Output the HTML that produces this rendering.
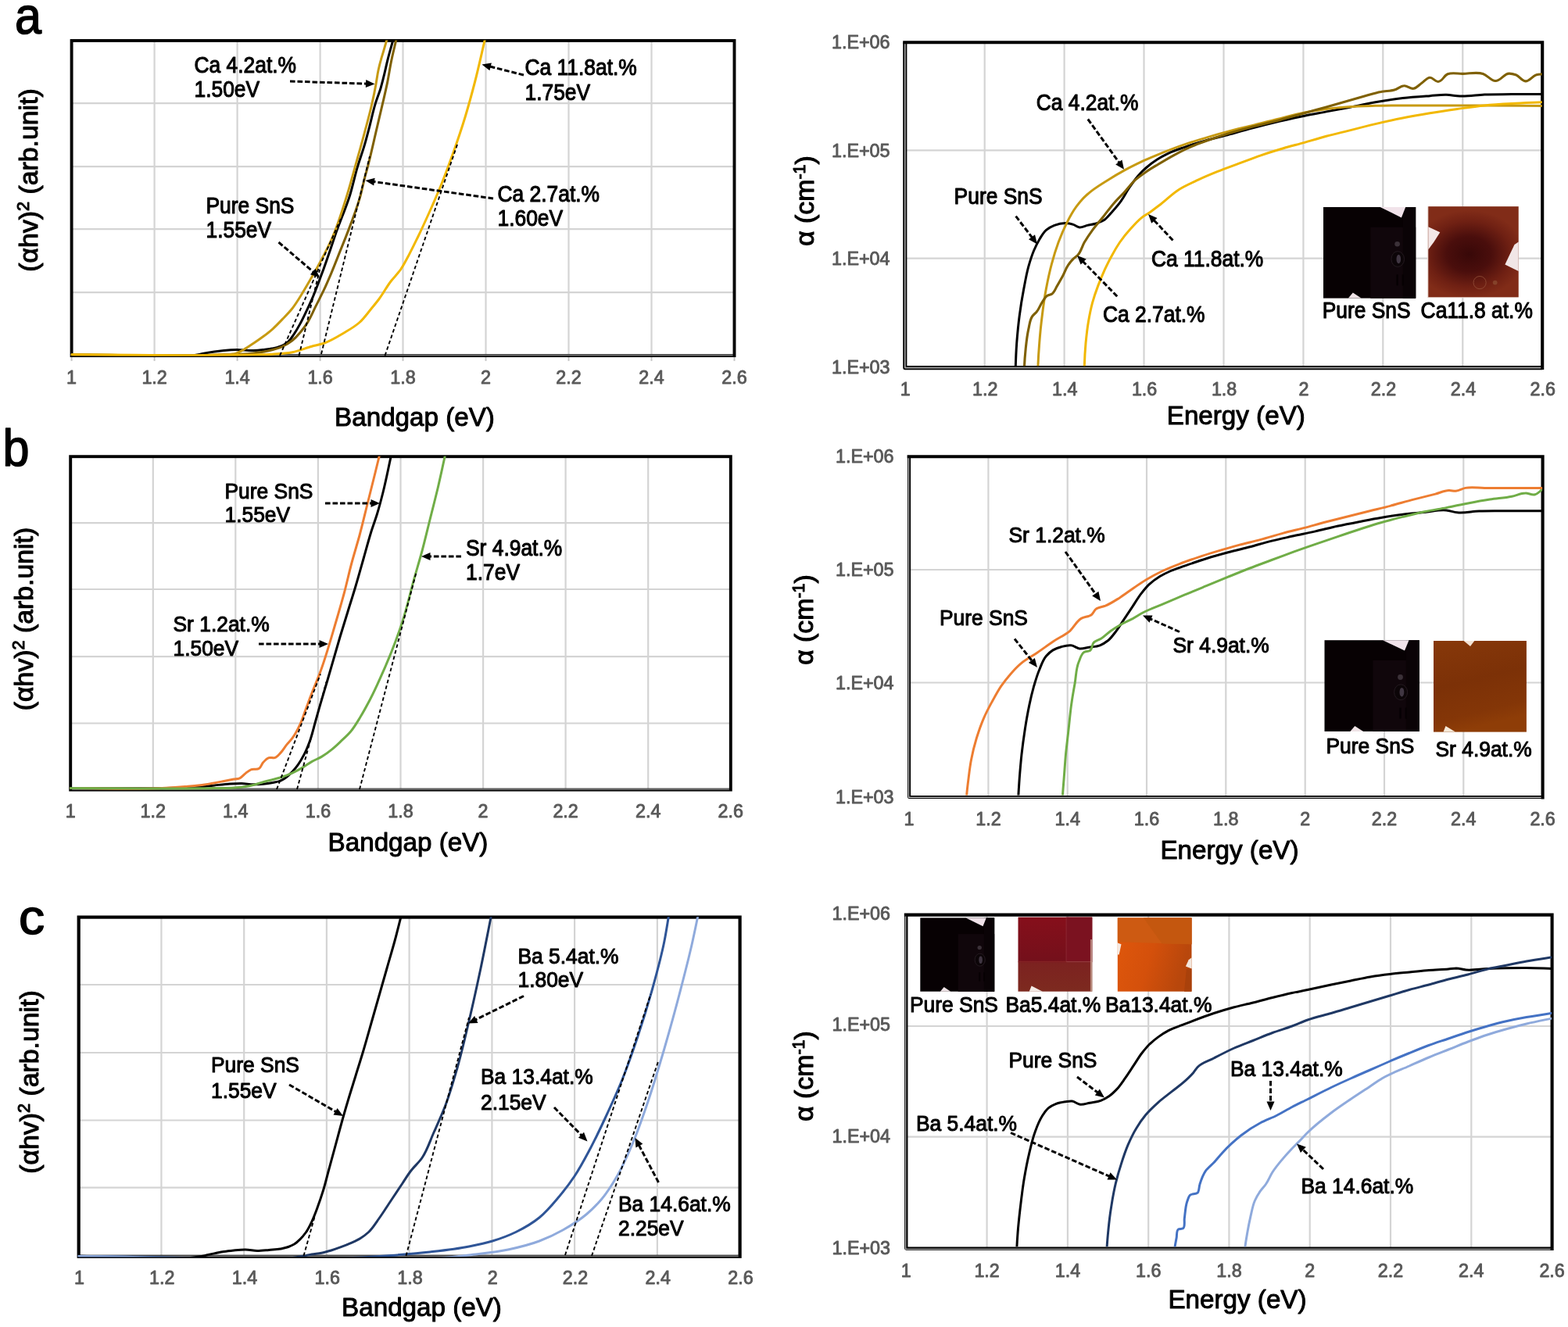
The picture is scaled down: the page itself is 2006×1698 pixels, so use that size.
<!DOCTYPE html>
<html lang="en">
<head>
<meta charset="utf-8">
<title>Tauc plots and absorption coefficient of Ca, Sr, Ba alloyed SnS</title>
<style>
html,body{margin:0;padding:0;background:#fff;}
body{width:2006px;height:1698px;overflow:hidden;}
svg{display:block;font-family:'Liberation Sans', sans-serif;}
svg text{white-space:pre;}
</style>
</head>
<body>
<svg width="2006" height="1698" viewBox="0 0 2006 1698">
<rect width="2006" height="1698" fill="#fff"/>
<g id="panel-al">
<clipPath id="clip-al"><rect x="90.6" y="51.6" width="848.9" height="403.9"/></clipPath>
<rect x="91.6" y="52" width="847.9" height="403.1" fill="#fff"/>
<line x1="197.6" y1="52" x2="197.6" y2="455.1" stroke="#d4d4d4" stroke-width="2.2"/>
<line x1="303.6" y1="52" x2="303.6" y2="455.1" stroke="#d4d4d4" stroke-width="2.2"/>
<line x1="409.6" y1="52" x2="409.6" y2="455.1" stroke="#d4d4d4" stroke-width="2.2"/>
<line x1="515.5" y1="52" x2="515.5" y2="455.1" stroke="#d4d4d4" stroke-width="2.2"/>
<line x1="621.5" y1="52" x2="621.5" y2="455.1" stroke="#d4d4d4" stroke-width="2.2"/>
<line x1="727.5" y1="52" x2="727.5" y2="455.1" stroke="#d4d4d4" stroke-width="2.2"/>
<line x1="833.5" y1="52" x2="833.5" y2="455.1" stroke="#d4d4d4" stroke-width="2.2"/>
<line x1="91.6" y1="132.1" x2="939.5" y2="132.1" stroke="#d4d4d4" stroke-width="2.2"/>
<line x1="91.6" y1="213.1" x2="939.5" y2="213.1" stroke="#d4d4d4" stroke-width="2.2"/>
<line x1="91.6" y1="293.2" x2="939.5" y2="293.2" stroke="#d4d4d4" stroke-width="2.2"/>
<line x1="91.6" y1="374.2" x2="939.5" y2="374.2" stroke="#d4d4d4" stroke-width="2.2"/>
<line x1="91.6" y1="456.1" x2="91.6" y2="461.9" stroke="#c6c6c6" stroke-width="2"/>
<line x1="197.6" y1="456.1" x2="197.6" y2="461.9" stroke="#c6c6c6" stroke-width="2"/>
<line x1="303.6" y1="456.1" x2="303.6" y2="461.9" stroke="#c6c6c6" stroke-width="2"/>
<line x1="409.6" y1="456.1" x2="409.6" y2="461.9" stroke="#c6c6c6" stroke-width="2"/>
<line x1="515.5" y1="456.1" x2="515.5" y2="461.9" stroke="#c6c6c6" stroke-width="2"/>
<line x1="621.5" y1="456.1" x2="621.5" y2="461.9" stroke="#c6c6c6" stroke-width="2"/>
<line x1="727.5" y1="456.1" x2="727.5" y2="461.9" stroke="#c6c6c6" stroke-width="2"/>
<line x1="833.5" y1="456.1" x2="833.5" y2="461.9" stroke="#c6c6c6" stroke-width="2"/>
<line x1="939.5" y1="456.1" x2="939.5" y2="461.9" stroke="#c6c6c6" stroke-width="2"/>
<rect x="91.6" y="52" width="847.9" height="403.1" fill="none" stroke="#000" stroke-width="3.9"/>
<line x1="93.5" y1="454.6" x2="937.6" y2="454.6" stroke="#808080" stroke-width="1.5"/>
<g clip-path="url(#clip-al)" fill="none" stroke-linejoin="round" stroke-linecap="round">
<path d="M91.7 453.8 C146.1 453.7 201.7 464.7 255 453.4 C256.4 453.1 257.8 452.8 259.2 452.5 C264.2 451.5 269.2 450.7 274.2 450 C278.3 449.4 282.5 448.9 286.6 448.5 C292 448 297.4 447.6 302.8 447.5 C309.9 447.4 317 448.7 324 448.5 C328.2 448.4 332.3 448 336.5 447.5 C340.7 447 344.9 446.6 349 445.8 C353.2 444.8 357.5 444 361.4 442 C364.1 440.7 366.7 439 368.9 437 C372 434.3 374 430.5 376.4 427.1 C379.1 423 381.5 418.8 383.8 414.6 C386.5 409.7 388.9 404.7 391.3 399.6 C393.9 394.3 396.4 388.9 398.8 383.4 C401.5 377.3 403.9 371 406.3 364.7 C408.8 358.1 411.3 351.5 413.8 344.8 C416.3 337.8 418.8 330.7 421.2 323.6 C423.8 316.2 426.2 308.6 428.7 301.2 C434.6 284 442.2 267.3 447.6 250 C451.4 237.8 453.8 225.3 457.5 213.1 C460 204.8 463 196.7 465.5 188.4 C468 180.2 470.1 171.9 472.3 163.6 C475.1 153.2 477.1 142.5 480.4 132.1 C482.2 126.1 484.7 120.2 486.6 114.2 C488.4 108.1 489.9 101.8 491.5 95.6 C493 89.5 494.3 83.3 495.8 77.1 C498 68.4 500.5 59.8 502.9 51.1" stroke="#000000" stroke-width="3.0"/>
<path d="M91.7 453.8 C161.1 453.7 230.7 457.8 300 453.6 C308 453.1 316.1 453 324 452 C332.4 451 340.8 449.8 349 447.5 C353.2 446.3 357.4 445.1 361.4 443.3 C365.8 441.2 370.1 438.8 373.9 435.8 C377.6 432.9 380.8 429.4 383.8 425.8 C387.5 421.5 390.8 416.9 393.8 412.1 C397.8 405.8 400.5 398.8 403.8 392.2 C407.1 385.5 410.6 378.9 413.8 372.2 C417.3 364.8 420.5 357.3 423.7 349.8 C427.2 341.5 430.4 333.2 433.7 324.9 C437 316.6 440.5 308.3 443.7 299.9 C450 283.5 456.6 267 461.2 250 C463.1 243.1 464.4 236.1 466.2 229.2 C467.5 223.8 469.1 218.5 470.5 213.1 C474.8 196.7 478.3 180.1 482.2 163.6 C484.7 153.1 487.2 142.6 489.6 132.1 C491.5 123.9 493.5 115.7 495.2 107.4 C497.3 97.3 498.7 87.1 500.8 77.1 C502.6 68.4 504.8 59.8 506.8 51.1" stroke="#7f6000" stroke-width="3.0"/>
<path d="M91.7 453.8 C154.5 453.7 217.4 457.6 280 453.6 C287.6 453.1 295.7 454.6 302.8 452 C305.9 450.8 308.7 449.1 311.6 447.5 C315.9 445.1 319.9 442.3 324 439.5 C328.2 436.7 332.4 433.8 336.5 430.8 C340.8 427.6 345 424.4 349 420.8 C353.3 416.9 357.4 412.6 361.4 408.4 C365.7 403.9 370 399.5 373.9 394.7 C378.5 388.8 382.4 382.3 386.3 376 C390.7 369 394.7 361.9 398.8 354.8 C403.1 347.4 407.3 339.9 411.3 332.3 C415.6 324.1 419.9 315.9 423.7 307.4 C432.1 288.9 437.9 269.3 443.9 250 C447.7 237.8 451 225.4 454.4 213.1 C459 196.6 463.7 180.2 468 163.6 C470.8 153.2 473.7 142.7 476 132.1 C477.9 123.9 479.5 115.7 481 107.4 C482.1 101.4 482.8 95.4 484.1 89.5 C485 85.3 486 81.2 487.2 77.1 C488.3 72.9 489.7 68.9 490.9 64.7 C492.2 60.2 493.5 55.7 494.8 51.1" stroke="#c79a12" stroke-width="3.0"/>
<path d="M91.7 453.8 C171.1 453.8 250.6 456 330 453.8 C336.3 453.6 342.6 453.6 349 453.2 C357.3 452.7 365.7 452.3 373.9 450.7 C382.4 449.1 390.4 445.6 398.8 443.3 C404.2 441.8 409.7 440.9 415 439 C423.9 435.9 431.9 430.8 440 426 C446.9 421.9 454 417.9 460 412.5 C465.7 407.4 470.1 400.9 475 395 C478.4 390.9 481.8 386.8 485 382.5 C490.4 375.3 494.5 367.2 500 360 C503.9 354.8 508.8 350.3 512.5 345 C516.3 339.5 519.3 333.4 522.5 327.5 C526.9 319.3 530.9 310.9 535 302.5 C540.2 291.8 545.1 280.9 550 270 C555.2 258.4 560.3 246.8 565 235 C570.3 221.8 575.2 208.4 580 195 C585.3 180.1 590.4 165.1 595 150 C599.5 135.1 603.6 120.1 607.5 105 C612.2 86.8 616.2 68.3 620.5 50" stroke="#f2b800" stroke-width="3.0"/>
</g>
<line x1="358" y1="455" x2="436" y2="280" stroke="#000" stroke-width="1.9" stroke-dasharray="4.6 3.2"/>
<line x1="382.5" y1="455" x2="409" y2="345" stroke="#000" stroke-width="1.9" stroke-dasharray="4.6 3.2"/>
<line x1="411" y1="453" x2="473" y2="200" stroke="#000" stroke-width="1.9" stroke-dasharray="4.6 3.2"/>
<line x1="492.5" y1="455" x2="585" y2="185" stroke="#000" stroke-width="1.9" stroke-dasharray="4.6 3.2"/>
<line x1="371" y1="104" x2="470" y2="107.2" stroke="#000" stroke-width="3.0" stroke-dasharray="6.6 2.9"/>
<polygon points="479.5,107.5 467.8,112.1 468.2,102.1" fill="#000"/>
<line x1="670" y1="96" x2="625.7" y2="84.8" stroke="#000" stroke-width="3.0" stroke-dasharray="6.6 2.9"/>
<polygon points="616.5,82.5 628.9,80.5 626.4,90.2" fill="#000"/>
<line x1="631" y1="254" x2="476.9" y2="232.3" stroke="#000" stroke-width="3.0" stroke-dasharray="6.6 2.9"/>
<polygon points="467.5,231 479.6,227.7 478.2,237.6" fill="#000"/>
<line x1="356.5" y1="310" x2="401.8" y2="348.8" stroke="#000" stroke-width="3.0" stroke-dasharray="6.6 2.9"/>
<polygon points="409,355 397,351.3 403.5,343.7" fill="#000"/>
<text x="91.6" y="491.3" font-size="23.3" fill="#595959" text-anchor="middle" stroke="#595959" stroke-width="0.9" stroke-linejoin="round">1</text>
<text x="197.6" y="491.3" font-size="23.3" fill="#595959" text-anchor="middle" stroke="#595959" stroke-width="0.9" stroke-linejoin="round">1.2</text>
<text x="303.6" y="491.3" font-size="23.3" fill="#595959" text-anchor="middle" stroke="#595959" stroke-width="0.9" stroke-linejoin="round">1.4</text>
<text x="409.6" y="491.3" font-size="23.3" fill="#595959" text-anchor="middle" stroke="#595959" stroke-width="0.9" stroke-linejoin="round">1.6</text>
<text x="515.5" y="491.3" font-size="23.3" fill="#595959" text-anchor="middle" stroke="#595959" stroke-width="0.9" stroke-linejoin="round">1.8</text>
<text x="621.5" y="491.3" font-size="23.3" fill="#595959" text-anchor="middle" stroke="#595959" stroke-width="0.9" stroke-linejoin="round">2</text>
<text x="727.5" y="491.3" font-size="23.3" fill="#595959" text-anchor="middle" stroke="#595959" stroke-width="0.9" stroke-linejoin="round">2.2</text>
<text x="833.5" y="491.3" font-size="23.3" fill="#595959" text-anchor="middle" stroke="#595959" stroke-width="0.9" stroke-linejoin="round">2.4</text>
<text x="939.5" y="491.3" font-size="23.3" fill="#595959" text-anchor="middle" stroke="#595959" stroke-width="0.9" stroke-linejoin="round">2.6</text>
<text transform="translate(248.5 92.5) scale(1 1.095)" font-size="26.4" fill="#000" text-anchor="start" stroke="#000" stroke-width="1.0" stroke-linejoin="round">Ca 4.2at.%</text>
<text transform="translate(248.5 123.5) scale(1 1.095)" font-size="26.4" fill="#000" text-anchor="start" stroke="#000" stroke-width="1.0" stroke-linejoin="round">1.50eV</text>
<text transform="translate(671.5 96) scale(1 1.095)" font-size="26.4" fill="#000" text-anchor="start" stroke="#000" stroke-width="1.0" stroke-linejoin="round">Ca 11.8at.%</text>
<text transform="translate(671.5 127.5) scale(1 1.095)" font-size="26.4" fill="#000" text-anchor="start" stroke="#000" stroke-width="1.0" stroke-linejoin="round">1.75eV</text>
<text transform="translate(636.5 257.5) scale(1 1.095)" font-size="26.4" fill="#000" text-anchor="start" stroke="#000" stroke-width="1.0" stroke-linejoin="round">Ca 2.7at.%</text>
<text transform="translate(636.5 288.5) scale(1 1.095)" font-size="26.4" fill="#000" text-anchor="start" stroke="#000" stroke-width="1.0" stroke-linejoin="round">1.60eV</text>
<text transform="translate(263.5 272.5) scale(1 1.095)" font-size="26.4" fill="#000" text-anchor="start" stroke="#000" stroke-width="1.0" stroke-linejoin="round">Pure SnS</text>
<text transform="translate(263.5 304) scale(1 1.095)" font-size="26.4" fill="#000" text-anchor="start" stroke="#000" stroke-width="1.0" stroke-linejoin="round">1.55eV</text>
<text x="530.5" y="544.7" font-size="33.2" fill="#000" text-anchor="middle" stroke="#000" stroke-width="1.0" stroke-linejoin="round">Bandgap (eV)</text>
<text transform="translate(48 230.5) rotate(-90)" font-size="33.8" fill="#000" stroke="#000" stroke-width="1.1" stroke-linejoin="round" text-anchor="middle">(αhv)<tspan font-size="21.5" dy="-11">2</tspan><tspan dy="11"> (arb.unit)</tspan></text>
</g>
<g id="panel-ar">
<clipPath id="clip-ar"><rect x="1157.8" y="54.3" width="815" height="413.9"/></clipPath>
<rect x="1157.8" y="54.3" width="815.5" height="416.2" fill="#fff"/>
<line x1="1259.7" y1="54.3" x2="1259.7" y2="470.6" stroke="#d4d4d4" stroke-width="2.2"/>
<line x1="1361.6" y1="54.3" x2="1361.6" y2="470.6" stroke="#d4d4d4" stroke-width="2.2"/>
<line x1="1463.5" y1="54.3" x2="1463.5" y2="470.6" stroke="#d4d4d4" stroke-width="2.2"/>
<line x1="1565.5" y1="54.3" x2="1565.5" y2="470.6" stroke="#d4d4d4" stroke-width="2.2"/>
<line x1="1667.4" y1="54.3" x2="1667.4" y2="470.6" stroke="#d4d4d4" stroke-width="2.2"/>
<line x1="1769.3" y1="54.3" x2="1769.3" y2="470.6" stroke="#d4d4d4" stroke-width="2.2"/>
<line x1="1871.3" y1="54.3" x2="1871.3" y2="470.6" stroke="#d4d4d4" stroke-width="2.2"/>
<line x1="1157.8" y1="192.4" x2="1973.2" y2="192.4" stroke="#d4d4d4" stroke-width="2.2"/>
<line x1="1157.8" y1="330.6" x2="1973.2" y2="330.6" stroke="#d4d4d4" stroke-width="2.2"/>
<g id="ph-a1">
<defs><linearGradient id="ph-a1-g" x1="0" y1="0" x2="1" y2="0"><stop offset="0" stop-color="#050001"/><stop offset="0.45" stop-color="#080103"/><stop offset="0.55" stop-color="#160a10"/><stop offset="1" stop-color="#1a0a11"/></linearGradient></defs>
<rect x="1693" y="265" width="118.2" height="116.6" fill="#070103"/>
<rect x="1753.3" y="290.7" width="57.9" height="90.9" fill="#10060b"/>
<rect x="1794.7" y="265" width="16.5" height="116.6" fill="#0a0306"/>
<polygon points="1765.7,265 1798.2,265 1792.9,278.4" fill="#f1e3ea"/>
<polygon points="1724.9,381.6 1730.8,374.6 1741.5,381.6" fill="#efe3e6"/>
<circle cx="1787.6" cy="312.2" r="3.3" fill="#3b3138"/>
<ellipse cx="1788.2" cy="331.5" rx="8.3" ry="9.9" fill="#0c0508" stroke="#241a20" stroke-width="1"/>
<ellipse cx="1789.3" cy="331.5" rx="2.8" ry="5.8" fill="#403642"/>
<rect x="1786.4" y="351.3" width="2.4" height="14" fill="#060103"/>
<rect x="1793.5" y="351.3" width="2.4" height="14" fill="#060103"/>
</g>
<g id="ph-a2">
<defs><radialGradient id="ph-a2-g" cx="0.45" cy="0.52" r="0.62" gradientTransform="translate(0 0.12) scale(1 0.78)"><stop offset="0" stop-color="#380808"/><stop offset="0.4" stop-color="#4a0e0c"/><stop offset="0.75" stop-color="#6f2013"/><stop offset="1" stop-color="#812c18"/></radialGradient></defs>
<rect x="1826.1" y="264.2" width="116.6" height="117" fill="#e9d9d2"/>
<rect x="1827.3" y="264.2" width="115.4" height="116" fill="url(#ph-a2-g)"/>
<polygon points="1827.3,290.3 1842.3,297.3 1834.2,310 1827.3,319.3" fill="#f3e7e6"/>
<polygon points="1942.7,309.4 1937.5,312.9 1925.4,338.4 1942.7,347.1" fill="#f1e6e6"/>
<circle cx="1893.1" cy="361.6" r="8.1" fill="none" stroke="#93503a" stroke-width="1" opacity="0.8"/>
<circle cx="1912.7" cy="361.6" r="2.9" fill="#8a4a30" opacity="0.8"/>
</g>
<path d="M1155.2 54.3 L1973.2 54.3 L1973.2 470.6 L1973.2 473.1" fill="none" stroke="#000" stroke-width="4.1" stroke-linejoin="miter"/>
<path d="M1157.8 54.3 L1157.8 470.6 L1973.2 470.6" fill="none" stroke="#000" stroke-width="5.1" stroke-linejoin="round"/>
<path d="M1157.8 56.3 L1157.8 470.6 L1971.2 470.6" fill="none" stroke="#a3a3a3" stroke-width="1.6" stroke-linejoin="round"/>
<g clip-path="url(#clip-ar)" fill="none" stroke-linejoin="round" stroke-linecap="round">
<path d="M1299 484.5 C1299.1 479.3 1299.2 474 1299.3 468.8 C1299.6 458.9 1300 449 1300.7 439.1 C1301.6 427.5 1302.7 415.8 1304.2 404.2 C1305.7 392.6 1307.6 380.9 1309.8 369.4 C1311.6 360 1313.2 350.6 1315.7 341.4 C1317.7 334.4 1319.8 327.3 1322.7 320.5 C1324.8 315.7 1327 311 1329.7 306.5 C1332.3 302.3 1334.6 297.6 1338.4 294.3 C1341.5 291.7 1345.1 289.9 1348.9 288.4 C1353.3 286.7 1358.1 285.6 1362.8 285.6 C1366.4 285.6 1370 286.2 1373.3 287.4 C1375.8 288.2 1377.7 290.4 1380.3 290.8 C1383.8 291.5 1387.3 289.2 1390.8 288.4 C1394.2 287.6 1397.8 287.3 1401.2 286.3 C1404.8 285.2 1408.5 284.1 1411.7 282.1 C1415.9 279.5 1418.8 275.3 1422.2 271.7 C1425.8 267.7 1429.4 263.7 1432.6 259.4 C1437.5 253 1440.9 245.5 1445.6 238.9 C1448.9 234.1 1452.2 229.3 1456 224.9 C1459.3 221.2 1462.8 217.7 1466.5 214.5 C1470.9 210.6 1475.6 207.1 1480.5 204 C1484.9 201.1 1489.6 198.6 1494.4 196.3 C1501.2 193.1 1508.3 190.8 1515.4 188.3 C1524.5 185.1 1533.9 182.2 1543.3 179.6 C1551.4 177.3 1559.6 175.4 1567.7 173.3 C1579.3 170.2 1590.9 166.9 1602.6 163.9 C1614.2 160.8 1625.8 157.9 1637.5 155.1 C1647.9 152.7 1658.4 150.3 1668.9 148.2 C1678.2 146.3 1687.5 144.7 1696.8 142.9 C1706.1 141.2 1715.4 139.5 1724.7 137.7 C1736.3 135.4 1747.9 132.8 1759.6 130.7 C1771.2 128.7 1782.8 126.8 1794.5 125.5 C1806.1 124.2 1817.7 123.5 1829.4 122.7 C1836.4 122.2 1843.3 121.1 1850.3 121.3 C1856.2 121.4 1861.9 122.8 1867.8 123 C1878.2 123.5 1888.7 121.4 1899.2 120.9 C1910.8 120.5 1922.4 120.7 1934.1 120.6 C1947.4 120.5 1960.8 120.6 1974.2 120.6" stroke="#000000" stroke-width="3.0"/>
<path d="M1327.6 484.5 C1327.7 479.3 1327.8 474 1327.9 468.8 C1328.3 458.9 1328.9 449 1329.7 439.1 C1330.6 427.5 1331.7 415.8 1333.2 404.2 C1334.6 392.6 1336.2 380.9 1338.4 369.4 C1340.4 358.8 1342.6 348.3 1345.4 337.9 C1347.9 328.5 1350.7 319.2 1354.1 310 C1357.2 301.7 1360.6 293.5 1364.6 285.6 C1368.2 278.4 1372 271.2 1376.8 264.7 C1380.9 259 1385.5 253.6 1390.8 249 C1392.7 247.3 1394.7 245.7 1396.7 244.1 C1403.3 239 1410.5 234.6 1417.7 230.2 C1424.5 225.9 1431.5 221.8 1438.6 217.9 C1446.6 213.6 1454.8 209.6 1463 205.7 C1471.1 202 1479.2 198.6 1487.4 195.3 C1496.7 191.6 1506 188 1515.4 184.8 C1524.6 181.6 1533.9 178.9 1543.3 176.1 C1551.4 173.7 1559.5 171.3 1567.7 169.1 C1579.3 166 1590.9 163.3 1602.6 160.4 C1614.2 157.5 1625.8 154.5 1637.5 151.7 C1647.9 149.1 1658.3 146.1 1668.9 144 C1678.1 142.1 1687.4 140.7 1696.8 139.4 C1706.1 138.2 1715.4 137.3 1724.7 136.7 C1736.3 135.8 1748 135.6 1759.6 135.3 C1782.8 134.6 1806.1 135 1829.4 134.9 C1852.6 134.8 1875.9 134.8 1899.2 134.9 C1924.2 135 1949.2 135.4 1974.2 135.6" stroke="#c79a12" stroke-width="3.0"/>
<path d="M1310.2 484.5 C1310.3 479.3 1310.3 474 1310.5 468.8 C1310.8 461.2 1311.4 453.7 1312.2 446.1 C1313.1 437.9 1313.9 429.7 1315.7 421.7 C1317.1 415.8 1317.3 409.1 1321 404.2 C1322.5 402.3 1324.6 400.9 1326.2 399 C1329.2 395.4 1330.5 390.7 1333.2 386.8 C1335.3 383.7 1336.9 379.9 1340.2 378.1 C1341.8 377.2 1343.8 377.2 1345.4 376.3 C1349 374.2 1350.2 369.4 1352.4 365.9 C1354.8 361.9 1357.1 357.8 1359.4 353.6 C1361.8 349.1 1363.4 344 1366.3 339.7 C1368.4 336.6 1370.6 333.5 1373.3 331 C1374.9 329.4 1377 328.4 1378.5 326.8 C1383 322.3 1384.1 315.5 1387.3 310 C1390.5 304.6 1394 299.4 1397.7 294.3 C1402.1 288.3 1407 282.7 1411.7 276.9 C1416.3 271.1 1420.7 265 1425.6 259.4 C1429.8 254.7 1434.3 250.5 1438.6 245.9 C1443.3 240.7 1447.3 234.9 1452.5 230.2 C1456.9 226.3 1461.7 223 1466.5 219.7 C1471 216.6 1475.8 213.8 1480.5 211 C1487.4 206.8 1494.3 202.6 1501.4 198.8 C1508.3 195 1515.2 191.4 1522.3 188.3 C1529.2 185.3 1536.2 182.8 1543.3 180.3 C1551.4 177.3 1559.5 174.5 1567.7 171.9 C1579.2 168.2 1590.9 165.2 1602.6 162.1 C1614.2 159.1 1625.9 156.5 1637.5 153.4 C1648 150.6 1658.4 147.6 1668.9 144.7 C1678.2 142.1 1687.5 139.6 1696.8 137 C1706.1 134.4 1715.4 131.6 1724.7 129 C1731.7 127 1738.6 125 1745.6 123 C1752.6 121.1 1759.5 118.8 1766.6 117.5 C1772.3 116.3 1778.4 116.7 1784 115 C1788.3 113.7 1791.8 110 1796.2 109.8 C1800.5 109.5 1804.3 113.9 1808.4 113.3 C1812.6 112.6 1815.4 108.6 1818.9 106.3 C1822.4 104 1825.2 99.5 1829.4 99.3 C1833.3 99.2 1835.9 104.6 1839.8 104.5 C1845.1 104.5 1847.2 96.7 1852.1 94.8 C1858 92.4 1864.9 94.5 1871.2 94.4 C1880 94.3 1889.1 91.8 1897.4 94.4 C1903.2 96.3 1907.1 103.3 1913.1 103.5 C1919.7 103.8 1924 94.2 1930.6 94.1 C1933.5 94 1936.5 94.8 1939.3 95.8 C1943.9 97.5 1946.6 103.6 1951.5 103.9 C1956.9 104.2 1960.3 97.2 1965.5 95.8 C1968.3 95.1 1971.3 95.1 1974.2 94.8" stroke="#7f6000" stroke-width="3.1"/>
<path d="M1386.9 484.5 C1387 479.3 1387.1 474 1387.3 468.8 C1387.6 458.9 1388.1 449 1389 439.1 C1389.9 429.8 1390.9 420.5 1392.5 411.2 C1393.9 403 1395.5 394.8 1397.7 386.8 C1399.7 379.7 1402.1 372.8 1404.7 365.9 C1407.4 358.8 1410.3 351.8 1413.4 344.9 C1416.2 339 1419 333.2 1422.2 327.5 C1425.4 321.5 1428.8 315.6 1432.6 310 C1436.9 303.9 1441.6 298.1 1446.6 292.6 C1451 287.7 1455.4 282.7 1460.5 278.6 C1463.8 276 1467.6 274.1 1471 271.7 C1475.8 268.3 1480.4 264.7 1485 261.2 C1492.9 255.1 1499.9 247.7 1508.4 242.4 C1516.1 237.5 1524.5 234 1532.8 230.2 C1540.8 226.4 1549 223 1557.2 219.7 C1566.4 216 1575.8 212.7 1585.1 209.2 C1594.4 205.7 1603.6 202 1613 198.8 C1622.3 195.6 1631.6 192.8 1641 190 C1650.2 187.3 1659.6 185 1668.9 182.4 C1678.2 179.7 1687.4 176.8 1696.8 174.3 C1706.1 171.8 1715.4 169.7 1724.7 167.4 C1736.3 164.4 1747.9 161.4 1759.6 158.6 C1771.2 155.9 1782.8 153.3 1794.5 151 C1806.1 148.6 1817.7 146.6 1829.4 144.7 C1841 142.8 1852.6 141.1 1864.3 139.4 C1875.9 137.8 1887.5 136.1 1899.2 134.9 C1910.8 133.7 1922.4 133.1 1934.1 132.5 C1947.4 131.7 1960.8 131.3 1974.2 130.7" stroke="#f2b800" stroke-width="3.0"/>
</g>
<line x1="1391.8" y1="152.5" x2="1432.5" y2="209.1" stroke="#000" stroke-width="3.0" stroke-dasharray="6.6 2.9"/>
<polygon points="1438,216.8 1427.2,210.4 1435.4,204.5" fill="#000"/>
<line x1="1299.6" y1="276.7" x2="1321.2" y2="304.9" stroke="#000" stroke-width="3.0" stroke-dasharray="6.6 2.9"/>
<polygon points="1327,312.4 1316,306.3 1324,300.2" fill="#000"/>
<line x1="1429.2" y1="379.2" x2="1384.7" y2="333.7" stroke="#000" stroke-width="3.0" stroke-dasharray="6.6 2.9"/>
<polygon points="1378.1,326.9 1389.7,331.6 1382.6,338.6" fill="#000"/>
<line x1="1500.5" y1="307.5" x2="1475.5" y2="280.9" stroke="#000" stroke-width="3.0" stroke-dasharray="6.6 2.9"/>
<polygon points="1469,274 1480.5,279 1473.2,285.8" fill="#000"/>
<text x="1158.3" y="506.3" font-size="23.3" fill="#595959" text-anchor="middle" stroke="#595959" stroke-width="0.9" stroke-linejoin="round">1</text>
<text x="1260.3" y="506.3" font-size="23.3" fill="#595959" text-anchor="middle" stroke="#595959" stroke-width="0.9" stroke-linejoin="round">1.2</text>
<text x="1362.2" y="506.3" font-size="23.3" fill="#595959" text-anchor="middle" stroke="#595959" stroke-width="0.9" stroke-linejoin="round">1.4</text>
<text x="1464.1" y="506.3" font-size="23.3" fill="#595959" text-anchor="middle" stroke="#595959" stroke-width="0.9" stroke-linejoin="round">1.6</text>
<text x="1566.1" y="506.3" font-size="23.3" fill="#595959" text-anchor="middle" stroke="#595959" stroke-width="0.9" stroke-linejoin="round">1.8</text>
<text x="1668" y="506.3" font-size="23.3" fill="#595959" text-anchor="middle" stroke="#595959" stroke-width="0.9" stroke-linejoin="round">2</text>
<text x="1769.9" y="506.3" font-size="23.3" fill="#595959" text-anchor="middle" stroke="#595959" stroke-width="0.9" stroke-linejoin="round">2.2</text>
<text x="1871.9" y="506.3" font-size="23.3" fill="#595959" text-anchor="middle" stroke="#595959" stroke-width="0.9" stroke-linejoin="round">2.4</text>
<text x="1973.8" y="506.3" font-size="23.3" fill="#595959" text-anchor="middle" stroke="#595959" stroke-width="0.9" stroke-linejoin="round">2.6</text>
<text x="1138.5" y="62.3" font-size="23.3" fill="#595959" text-anchor="end" stroke="#595959" stroke-width="0.9" stroke-linejoin="round">1.E+06</text>
<text x="1138.5" y="200.6" font-size="23.3" fill="#595959" text-anchor="end" stroke="#595959" stroke-width="0.9" stroke-linejoin="round">1.E+05</text>
<text x="1138.5" y="339.3" font-size="23.3" fill="#595959" text-anchor="end" stroke="#595959" stroke-width="0.9" stroke-linejoin="round">1.E+04</text>
<text x="1138.5" y="478.2" font-size="23.3" fill="#595959" text-anchor="end" stroke="#595959" stroke-width="0.9" stroke-linejoin="round">1.E+03</text>
<text transform="translate(1325.8 140.8) scale(1 1.085)" font-size="26.4" fill="#000" text-anchor="start" stroke="#000" stroke-width="1.0" stroke-linejoin="round">Ca 4.2at.%</text>
<text transform="translate(1220.6 260.5) scale(1 1.085)" font-size="26.4" fill="#000" text-anchor="start" stroke="#000" stroke-width="1.0" stroke-linejoin="round">Pure SnS</text>
<text transform="translate(1411 412.2) scale(1 1.085)" font-size="26.4" fill="#000" text-anchor="start" stroke="#000" stroke-width="1.0" stroke-linejoin="round">Ca 2.7at.%</text>
<text transform="translate(1473 341) scale(1 1.085)" font-size="26.4" fill="#000" text-anchor="start" stroke="#000" stroke-width="1.0" stroke-linejoin="round">Ca 11.8at.%</text>
<text transform="translate(1691.7 407.2) scale(1 1.085)" font-size="26.4" fill="#000" text-anchor="start" stroke="#000" stroke-width="1.0" stroke-linejoin="round">Pure SnS</text>
<text transform="translate(1817.6 407.2) scale(1 1.085)" font-size="26.4" fill="#000" text-anchor="start" stroke="#000" stroke-width="1.0" stroke-linejoin="round">Ca11.8 at.%</text>
<text x="1581.3" y="542.5" font-size="33.2" fill="#000" text-anchor="middle" stroke="#000" stroke-width="1.0" stroke-linejoin="round">Energy (eV)</text>
<text transform="translate(1040.5 257) rotate(-90)" font-size="33.8" fill="#000" stroke="#000" stroke-width="1.1" stroke-linejoin="round" text-anchor="middle">α (cm<tspan font-size="21.5" dy="-11">-1</tspan><tspan dy="11">)</tspan></text>
</g>
<g id="panel-bl">
<clipPath id="clip-bl"><rect x="89.2" y="583.8" width="845.6" height="427.2"/></clipPath>
<rect x="90.2" y="584.2" width="844.6" height="426.4" fill="#fff"/>
<line x1="195.8" y1="584.2" x2="195.8" y2="1010.6" stroke="#d4d4d4" stroke-width="2.2"/>
<line x1="301.3" y1="584.2" x2="301.3" y2="1010.6" stroke="#d4d4d4" stroke-width="2.2"/>
<line x1="406.9" y1="584.2" x2="406.9" y2="1010.6" stroke="#d4d4d4" stroke-width="2.2"/>
<line x1="512.5" y1="584.2" x2="512.5" y2="1010.6" stroke="#d4d4d4" stroke-width="2.2"/>
<line x1="618.1" y1="584.2" x2="618.1" y2="1010.6" stroke="#d4d4d4" stroke-width="2.2"/>
<line x1="723.6" y1="584.2" x2="723.6" y2="1010.6" stroke="#d4d4d4" stroke-width="2.2"/>
<line x1="829.2" y1="584.2" x2="829.2" y2="1010.6" stroke="#d4d4d4" stroke-width="2.2"/>
<line x1="90.2" y1="669.2" x2="934.8" y2="669.2" stroke="#d4d4d4" stroke-width="2.2"/>
<line x1="90.2" y1="754" x2="934.8" y2="754" stroke="#d4d4d4" stroke-width="2.2"/>
<line x1="90.2" y1="840.2" x2="934.8" y2="840.2" stroke="#d4d4d4" stroke-width="2.2"/>
<line x1="90.2" y1="925.5" x2="934.8" y2="925.5" stroke="#d4d4d4" stroke-width="2.2"/>
<rect x="90.2" y="584.2" width="844.6" height="426.4" fill="none" stroke="#000" stroke-width="3.9"/>
<line x1="92.1" y1="1010.1" x2="932.9" y2="1010.1" stroke="#808080" stroke-width="1.5"/>
<g clip-path="url(#clip-bl)" fill="none" stroke-linejoin="round" stroke-linecap="round">
<path d="M89.7 1008.5 C134.6 1008.4 179.5 1009.4 224.3 1008.2 C232.6 1008 241 1008 249.3 1007.5 C257.6 1007 265.9 1005.8 274.2 1005 C280.8 1004.3 287.5 1003.4 294.1 1003 C299.1 1002.7 304.1 1002.4 309.1 1002.5 C314.1 1002.6 319 1003.7 324 1003.8 C328.2 1003.8 332.3 1003.6 336.5 1003.3 C340.7 1002.9 344.8 1002.3 349 1001.5 C352.3 1000.8 355.8 1000.4 358.9 999 C361.6 997.9 364.1 996.3 366.4 994.5 C369.1 992.5 371.5 990 373.9 987.6 C376.6 984.7 379.1 981.6 381.4 978.3 C384.2 974.4 386.6 970.2 388.8 965.9 C391.8 960.3 394.1 954.4 396.3 948.4 C399.4 939.9 401.3 931 403.8 922.3 C406.3 913.5 408.7 904.8 411.3 896.1 C413.7 887.8 416.3 879.5 418.7 871.2 C424.3 852.5 429.4 833.7 435 815 C438.3 804.1 441.7 793.3 445 782.5 C448.3 771.7 451.8 760.9 455 750 C458.5 738.4 461.7 726.7 465 715 C468.3 703.3 471.4 691.6 475 680 C477.4 672.5 480.2 665.1 482.5 657.5 C485.3 648.4 487.7 639.2 490 630 C494 614.3 497 598.3 500.5 582.5" stroke="#000000" stroke-width="3.0"/>
<path d="M89.7 1008.5 C130.4 1008.4 171.2 1010.6 211.9 1008.2 C220.2 1007.8 228.5 1007.2 236.8 1006.5 C245.1 1005.8 253.4 1005.2 261.7 1004 C270.1 1002.8 278.4 1001.1 286.6 999.5 C290.8 998.7 294.9 997.8 299.1 997 C301.6 996.6 304.2 996.8 306.6 995.8 C309.6 994.5 311.5 991.5 314.1 989.6 C316.5 987.8 318.7 985.6 321.5 984.6 C324.7 983.4 328.7 985.2 331.5 983.3 C334 981.7 334.5 978.1 336.5 975.8 C338.6 973.4 340.9 970.6 344 969.6 C346.3 968.9 349.1 970.3 351.4 969.6 C354.5 968.7 356.7 965.7 358.9 963.4 C361.8 960.4 363.8 956.6 366.4 953.4 C368.8 950.4 371.6 947.8 373.9 944.7 C377.9 939.3 381 933.3 383.8 927.2 C386.9 920.8 388.8 913.9 391.3 907.3 C393.8 900.7 396.2 894 398.8 887.4 C402 879 405.6 870.8 408.8 862.4 C417.1 840.4 423.3 817.6 430 795 C433.4 783.4 436.8 771.7 440 760 C443.6 746.7 446.4 733.3 450 720 C453.2 708.3 456.8 696.7 460 685 C463.6 671.7 466.7 658.3 470 645 C473.3 631.7 476.7 618.3 480 605 C481.8 597.5 483.7 590 485.5 582.5" stroke="#ed7d31" stroke-width="3.0"/>
<path d="M89.7 1008.5 C151.2 1008.5 212.7 1009.6 274.2 1008.5 C282.5 1008.3 290.8 1008.6 299.1 1008 C304.1 1007.6 309.1 1007.3 314.1 1006.5 C317.4 1006 320.7 1005.3 324 1004.5 C328.2 1003.5 332.3 1001.9 336.5 1000.8 C340.6 999.6 344.8 998.6 349 997.5 C353.1 996.4 357.3 995.4 361.4 994 C365.7 992.6 369.8 990.9 373.9 989.1 C378.1 987.1 382.3 984.9 386.3 982.6 C390.6 980.1 394.5 977 398.8 974.6 C402.8 972.3 407.3 970.7 411.3 968.4 C415.6 965.8 419.8 962.8 423.7 959.6 C428.1 956.2 432.1 952.3 436.2 948.4 C440.5 944.4 444.9 940.5 448.7 936 C453.5 930.2 457.2 923.7 461.1 917.3 C465.6 910 469.6 902.4 473.6 894.8 C478 886.3 482.1 877.5 486 868.7 C496.9 844.6 506.9 820.1 515 795 C520.8 776.9 524.9 758.3 530 740 C533.3 728.3 536.8 716.7 540 705 C543.6 691.7 546.7 678.3 550 665 C553.3 651.7 556.8 638.4 560 625 C563.3 610.9 566.3 596.7 569.5 582.5" stroke="#70ad47" stroke-width="3.0"/>
</g>
<line x1="354" y1="1010" x2="410" y2="862.5" stroke="#000" stroke-width="1.9" stroke-dasharray="4.6 3.2"/>
<line x1="380" y1="1010" x2="417.5" y2="872.5" stroke="#000" stroke-width="1.9" stroke-dasharray="4.6 3.2"/>
<line x1="460" y1="1010" x2="532.5" y2="732.5" stroke="#000" stroke-width="1.9" stroke-dasharray="4.6 3.2"/>
<line x1="416" y1="644" x2="476.5" y2="644" stroke="#000" stroke-width="3.0" stroke-dasharray="6.6 2.9"/>
<polygon points="486,644 474.5,649 474.5,639" fill="#000"/>
<line x1="590" y1="712" x2="548.5" y2="712" stroke="#000" stroke-width="3.0" stroke-dasharray="6.6 2.9"/>
<polygon points="539,712 550.5,707 550.5,717" fill="#000"/>
<line x1="331" y1="824" x2="410.5" y2="824" stroke="#000" stroke-width="3.0" stroke-dasharray="6.6 2.9"/>
<polygon points="420,824 408.5,829 408.5,819" fill="#000"/>
<text x="90.2" y="1046" font-size="23.3" fill="#595959" text-anchor="middle" stroke="#595959" stroke-width="0.9" stroke-linejoin="round">1</text>
<text x="195.8" y="1046" font-size="23.3" fill="#595959" text-anchor="middle" stroke="#595959" stroke-width="0.9" stroke-linejoin="round">1.2</text>
<text x="301.3" y="1046" font-size="23.3" fill="#595959" text-anchor="middle" stroke="#595959" stroke-width="0.9" stroke-linejoin="round">1.4</text>
<text x="406.9" y="1046" font-size="23.3" fill="#595959" text-anchor="middle" stroke="#595959" stroke-width="0.9" stroke-linejoin="round">1.6</text>
<text x="512.5" y="1046" font-size="23.3" fill="#595959" text-anchor="middle" stroke="#595959" stroke-width="0.9" stroke-linejoin="round">1.8</text>
<text x="618.1" y="1046" font-size="23.3" fill="#595959" text-anchor="middle" stroke="#595959" stroke-width="0.9" stroke-linejoin="round">2</text>
<text x="723.6" y="1046" font-size="23.3" fill="#595959" text-anchor="middle" stroke="#595959" stroke-width="0.9" stroke-linejoin="round">2.2</text>
<text x="829.2" y="1046" font-size="23.3" fill="#595959" text-anchor="middle" stroke="#595959" stroke-width="0.9" stroke-linejoin="round">2.4</text>
<text x="934.8" y="1046" font-size="23.3" fill="#595959" text-anchor="middle" stroke="#595959" stroke-width="0.9" stroke-linejoin="round">2.6</text>
<text transform="translate(287.5 637.5) scale(1 1.050)" font-size="26.4" fill="#000" text-anchor="start" stroke="#000" stroke-width="1.0" stroke-linejoin="round">Pure SnS</text>
<text transform="translate(287.5 667.5) scale(1 1.050)" font-size="26.4" fill="#000" text-anchor="start" stroke="#000" stroke-width="1.0" stroke-linejoin="round">1.55eV</text>
<text transform="translate(596 710.6) scale(1 1.100)" font-size="26.4" fill="#000" text-anchor="start" stroke="#000" stroke-width="1.0" stroke-linejoin="round">Sr 4.9at.%</text>
<text transform="translate(596 742.2) scale(1 1.100)" font-size="26.4" fill="#000" text-anchor="start" stroke="#000" stroke-width="1.0" stroke-linejoin="round">1.7eV</text>
<text transform="translate(221.5 807.5) scale(1 1.050)" font-size="26.4" fill="#000" text-anchor="start" stroke="#000" stroke-width="1.0" stroke-linejoin="round">Sr 1.2at.%</text>
<text transform="translate(221.5 838.5) scale(1 1.050)" font-size="26.4" fill="#000" text-anchor="start" stroke="#000" stroke-width="1.0" stroke-linejoin="round">1.50eV</text>
<text x="522" y="1089" font-size="33.2" fill="#000" text-anchor="middle" stroke="#000" stroke-width="1.0" stroke-linejoin="round">Bandgap (eV)</text>
<text transform="translate(41.5 792) rotate(-90)" font-size="33.8" fill="#000" stroke="#000" stroke-width="1.1" stroke-linejoin="round" text-anchor="middle">(αhv)<tspan font-size="21.5" dy="-11">2</tspan><tspan dy="11"> (arb.unit)</tspan></text>
</g>
<g id="panel-br">
<clipPath id="clip-br"><rect x="1163.1" y="584.2" width="810" height="433.4"/></clipPath>
<rect x="1163.1" y="584.2" width="810.5" height="435.7" fill="#fff"/>
<line x1="1264.4" y1="584.2" x2="1264.4" y2="1019.9" stroke="#d4d4d4" stroke-width="2.2"/>
<line x1="1365.7" y1="584.2" x2="1365.7" y2="1019.9" stroke="#d4d4d4" stroke-width="2.2"/>
<line x1="1467" y1="584.2" x2="1467" y2="1019.9" stroke="#d4d4d4" stroke-width="2.2"/>
<line x1="1568.3" y1="584.2" x2="1568.3" y2="1019.9" stroke="#d4d4d4" stroke-width="2.2"/>
<line x1="1669.7" y1="584.2" x2="1669.7" y2="1019.9" stroke="#d4d4d4" stroke-width="2.2"/>
<line x1="1771" y1="584.2" x2="1771" y2="1019.9" stroke="#d4d4d4" stroke-width="2.2"/>
<line x1="1872.3" y1="584.2" x2="1872.3" y2="1019.9" stroke="#d4d4d4" stroke-width="2.2"/>
<line x1="1163.1" y1="729" x2="1973.6" y2="729" stroke="#d4d4d4" stroke-width="2.2"/>
<line x1="1163.1" y1="873.5" x2="1973.6" y2="873.5" stroke="#d4d4d4" stroke-width="2.2"/>
<g id="ph-b1">
<defs><linearGradient id="ph-b1-g" x1="0" y1="0" x2="1" y2="0"><stop offset="0" stop-color="#050001"/><stop offset="0.45" stop-color="#080103"/><stop offset="0.55" stop-color="#160a10"/><stop offset="1" stop-color="#1a0a11"/></linearGradient></defs>
<rect x="1694.5" y="819.2" width="121.3" height="116.7" fill="#070103"/>
<rect x="1756.4" y="844.9" width="59.4" height="91" fill="#10060b"/>
<rect x="1798.8" y="819.2" width="17" height="116.7" fill="#0a0306"/>
<polygon points="1769.1,819.2 1802.5,819.2 1797,832.6" fill="#f1e3ea"/>
<polygon points="1727.3,935.9 1733.3,928.9 1744.2,935.9" fill="#efe3e6"/>
<circle cx="1791.5" cy="866.5" r="3.4" fill="#3b3138"/>
<ellipse cx="1792.1" cy="885.7" rx="8.5" ry="9.9" fill="#0c0508" stroke="#241a20" stroke-width="1"/>
<ellipse cx="1793.4" cy="885.7" rx="2.9" ry="5.8" fill="#403642"/>
<rect x="1790.3" y="905.6" width="2.4" height="14" fill="#060103"/>
<rect x="1797.6" y="905.6" width="2.4" height="14" fill="#060103"/>
</g>
<g id="ph-b2">
<defs><linearGradient id="ph-b2-g" x1="0" y1="0" x2="0.25" y2="1"><stop offset="0" stop-color="#87380a"/><stop offset="0.5" stop-color="#7c3107"/><stop offset="0.85" stop-color="#843607"/><stop offset="1" stop-color="#8e3d07"/></linearGradient></defs>
<rect x="1834" y="820" width="118.9" height="116.6" fill="url(#ph-b2-g)"/>
<polygon points="1872.6,820 1886.3,820 1881,827" fill="#f3e3d6"/>
<polygon points="1846.5,936.6 1849.5,929 1861.9,936.6" fill="#f6ead9"/>
</g>
<path d="M1160.6 584.2 L1973.6 584.2 L1973.6 1019.9 L1973.6 1022.4" fill="none" stroke="#000" stroke-width="4.1" stroke-linejoin="miter"/>
<path d="M1163.1 584.2 L1163.1 1019.9 L1973.6 1019.9" fill="none" stroke="#000" stroke-width="4.0" stroke-linejoin="round"/>
<path d="M1162.6 586.2 L1162.6 1020.4 L1971.6 1020.4" fill="none" stroke="#c9c9c9" stroke-width="1.1" stroke-linejoin="round"/>
<g clip-path="url(#clip-br)" fill="none" stroke-linejoin="round" stroke-linecap="round">
<path d="M1302.5 1035 C1302.6 1030 1302.6 1025 1302.8 1020 C1303.1 1012.2 1303.7 1004.4 1304.2 996.6 C1305 986.1 1305.9 975.6 1307 965.2 C1308.2 954.7 1309.6 944.2 1311.2 933.8 C1312.8 923.3 1314.6 912.8 1316.8 902.4 C1318.5 894.2 1320.4 886 1322.7 877.9 C1324.8 870.9 1326.8 863.8 1329.7 857 C1332.2 851 1334.2 844.5 1338.4 839.6 C1340.9 836.6 1343.8 833.9 1347.1 831.9 C1350.6 829.8 1354.5 828.5 1358.3 827.5 C1362.3 826.4 1366.5 825.2 1370.5 825.8 C1374.3 826.2 1377.3 829.5 1381 829.9 C1385.1 830.5 1389.2 828.8 1393.2 828.2 C1397.9 827.5 1402.8 827.5 1407.2 825.8 C1411 824.3 1414.5 822 1417.7 819.5 C1421.8 816.1 1424.9 811.5 1428.1 807.3 C1431.9 802.3 1435.1 796.8 1438.6 791.6 C1442.1 786.3 1445.6 781.1 1449.1 775.9 C1452.5 770.6 1455.7 765.2 1459.5 760.2 C1462.8 755.9 1466.1 751.6 1470 747.9 C1474.2 744 1479 740.5 1483.9 737.5 C1488.4 734.8 1493.1 732.6 1497.9 730.5 C1503.6 728 1509.5 726.3 1515.4 724.2 C1524.6 721 1533.9 717.7 1543.3 714.8 C1552.5 711.9 1561.8 709.3 1571.2 706.8 C1580.4 704.3 1589.8 702.2 1599.1 699.8 C1608.4 697.3 1617.6 694.5 1627 692.1 C1636.3 689.8 1645.6 687.9 1654.9 685.8 C1664.2 683.8 1673.6 682 1682.8 679.9 C1692.2 677.8 1701.4 675.3 1710.7 673.3 C1720 671.3 1729.3 669.5 1738.7 667.7 C1748 665.9 1757.2 664 1766.6 662.5 C1775.8 660.9 1785.1 659.4 1794.5 658.3 C1803.8 657.1 1813.1 656.4 1822.4 655.5 C1831.7 654.6 1841 652.1 1850.3 653 C1855 653.5 1859.6 655.3 1864.3 655.8 C1873.5 656.9 1882.9 654.4 1892.2 654.1 C1901.5 653.7 1910.8 653.8 1920.1 653.7 C1938.1 653.6 1956.2 653.7 1974.2 653.7" stroke="#000000" stroke-width="3.0"/>
<path d="M1359 1035 C1359.1 1030 1359.1 1025 1359.4 1020 C1359.7 1012.2 1360.5 1004.4 1361.1 996.6 C1361.9 986.1 1362.6 975.6 1363.5 965.2 C1364.5 954.7 1365.9 944.2 1367 933.8 C1368.2 923.3 1369.1 912.8 1370.5 902.4 C1371.8 893 1373.4 883.7 1375.1 874.5 C1376.7 865.1 1376.5 855.2 1380.3 846.5 C1382.2 842.2 1383.2 836.6 1387.3 834.3 C1389.4 833.2 1392.2 833.9 1394.2 832.6 C1397.6 830.5 1396.7 824.7 1399.5 821.9 C1402 819.4 1405.9 818.9 1408.9 817 C1413.4 814.3 1416.9 810.3 1421.1 807.3 C1425.6 804.1 1430.3 801.2 1435.1 798.5 C1439.6 796 1444.5 794 1449.1 791.6 C1453.8 789 1458.2 786 1463 783.5 C1470.9 779.5 1479.3 776.5 1487.4 773.1 C1496.7 769.1 1506 765.1 1515.4 761.2 C1524.6 757.3 1534 753.5 1543.3 749.7 C1552.6 745.9 1561.9 742 1571.2 738.2 C1580.5 734.4 1589.7 730.6 1599.1 727 C1608.4 723.4 1617.7 720 1627 716.5 C1636.3 713.1 1645.6 709.5 1654.9 706.1 C1664.2 702.7 1673.5 699.5 1682.8 696.3 C1692.1 693.1 1701.4 690 1710.7 686.9 C1720 683.7 1729.3 680.5 1738.7 677.5 C1747.9 674.5 1757.2 671.4 1766.6 668.7 C1775.8 666.1 1785.2 663.7 1794.5 661.4 C1803.8 659.1 1813 656.8 1822.4 654.8 C1831.7 652.8 1841 651.4 1850.3 649.6 C1859.6 647.7 1868.9 645.7 1878.2 644 C1887.5 642.2 1896.8 640.5 1906.1 639.1 C1915.4 637.6 1924.8 637.1 1934.1 635.2 C1939.9 634.1 1945.5 631.1 1951.5 631.1 C1955.6 631 1959.7 633.8 1963.7 632.8 C1967.9 631.8 1970.7 627.7 1974.2 625.1" stroke="#70ad47" stroke-width="3.0"/>
<path d="M1236.2 1035 C1236.3 1030 1236.3 1025 1236.5 1020 C1237 1012.1 1238 1004.4 1239 996.6 C1240 988.4 1240.9 980.2 1242.5 972.2 C1244.3 962.7 1246.6 953.4 1249.4 944.2 C1252 936 1254.7 927.8 1258.2 919.8 C1261.2 912.7 1264.9 905.7 1268.6 898.9 C1272.5 891.8 1276.3 884.6 1280.8 877.9 C1284.6 872.5 1288.7 867.2 1293.1 862.2 C1297.1 857.6 1301.3 853.1 1306 849.1 C1312.4 843.7 1320 839.9 1326.9 835.2 C1334 830.4 1340.8 825.2 1347.9 820.5 C1354.7 815.9 1362.6 812.7 1368.8 807.3 C1374.1 802.7 1376.8 795.3 1382.8 791.6 C1387 788.9 1393 789.6 1396.7 786.3 C1398.9 784.4 1399.7 781.2 1402 779.4 C1405.3 776.6 1410.2 776.8 1414.2 775.2 C1420.3 772.6 1426 768.9 1431.6 765.4 C1437.6 761.6 1443.2 757.2 1449.1 753.2 C1454.8 749.3 1460.5 745.2 1466.5 741.7 C1473.3 737.6 1480.3 733.9 1487.4 730.5 C1494.3 727.3 1501.3 724.5 1508.4 721.8 C1516.4 718.6 1524.6 715.8 1532.8 713.1 C1540.9 710.3 1549.1 707.8 1557.2 705.4 C1566.5 702.6 1575.8 699.9 1585.1 697.4 C1594.4 694.9 1603.8 692.9 1613 690.4 C1622.4 687.9 1631.6 684.9 1641 682.4 C1650.2 679.9 1659.6 677.8 1668.9 675.4 C1678.2 672.9 1687.5 670.1 1696.8 667.7 C1706.1 665.3 1715.4 663 1724.7 660.7 C1734 658.4 1743.3 656.1 1752.6 653.7 C1761.9 651.4 1771.3 649.2 1780.5 646.8 C1789.9 644.3 1799.1 641.5 1808.4 639.1 C1817.7 636.7 1827.1 634.5 1836.4 632.1 C1842.2 630.6 1847.8 627.7 1853.8 627.6 C1856.7 627.5 1859.6 628.5 1862.5 628.3 C1866.8 627.9 1870.6 625.3 1874.7 624.4 C1882.7 622.8 1891 624.4 1899.2 624.4 C1924.2 624.4 1949.2 624.4 1974.2 624.4" stroke="#ed7d31" stroke-width="3.0"/>
</g>
<line x1="1363" y1="706" x2="1402.5" y2="761.3" stroke="#000" stroke-width="3.0" stroke-dasharray="6.6 2.9"/>
<polygon points="1408,769 1397.2,762.5 1405.4,756.7" fill="#000"/>
<line x1="1298" y1="817.5" x2="1321.1" y2="846.6" stroke="#000" stroke-width="3.0" stroke-dasharray="6.6 2.9"/>
<polygon points="1327,854 1315.9,848.1 1323.8,841.9" fill="#000"/>
<line x1="1509" y1="808.5" x2="1470.7" y2="791.4" stroke="#000" stroke-width="3.0" stroke-dasharray="6.6 2.9"/>
<polygon points="1462,787.5 1474.5,787.6 1470.5,796.8" fill="#000"/>
<text x="1163.1" y="1056" font-size="23.3" fill="#595959" text-anchor="middle" stroke="#595959" stroke-width="0.9" stroke-linejoin="round">1</text>
<text x="1264.4" y="1056" font-size="23.3" fill="#595959" text-anchor="middle" stroke="#595959" stroke-width="0.9" stroke-linejoin="round">1.2</text>
<text x="1365.7" y="1056" font-size="23.3" fill="#595959" text-anchor="middle" stroke="#595959" stroke-width="0.9" stroke-linejoin="round">1.4</text>
<text x="1467" y="1056" font-size="23.3" fill="#595959" text-anchor="middle" stroke="#595959" stroke-width="0.9" stroke-linejoin="round">1.6</text>
<text x="1568.3" y="1056" font-size="23.3" fill="#595959" text-anchor="middle" stroke="#595959" stroke-width="0.9" stroke-linejoin="round">1.8</text>
<text x="1669.7" y="1056" font-size="23.3" fill="#595959" text-anchor="middle" stroke="#595959" stroke-width="0.9" stroke-linejoin="round">2</text>
<text x="1771" y="1056" font-size="23.3" fill="#595959" text-anchor="middle" stroke="#595959" stroke-width="0.9" stroke-linejoin="round">2.2</text>
<text x="1872.3" y="1056" font-size="23.3" fill="#595959" text-anchor="middle" stroke="#595959" stroke-width="0.9" stroke-linejoin="round">2.4</text>
<text x="1973.6" y="1056" font-size="23.3" fill="#595959" text-anchor="middle" stroke="#595959" stroke-width="0.9" stroke-linejoin="round">2.6</text>
<text x="1143.5" y="591.8" font-size="23.3" fill="#595959" text-anchor="end" stroke="#595959" stroke-width="0.9" stroke-linejoin="round">1.E+06</text>
<text x="1143.5" y="736.8" font-size="23.3" fill="#595959" text-anchor="end" stroke="#595959" stroke-width="0.9" stroke-linejoin="round">1.E+05</text>
<text x="1143.5" y="881.8" font-size="23.3" fill="#595959" text-anchor="end" stroke="#595959" stroke-width="0.9" stroke-linejoin="round">1.E+04</text>
<text x="1143.5" y="1028.1" font-size="23.3" fill="#595959" text-anchor="end" stroke="#595959" stroke-width="0.9" stroke-linejoin="round">1.E+03</text>
<text transform="translate(1290.5 694) scale(1 1.050)" font-size="26.4" fill="#000" text-anchor="start" stroke="#000" stroke-width="1.0" stroke-linejoin="round">Sr 1.2at.%</text>
<text transform="translate(1202 800) scale(1 1.050)" font-size="26.4" fill="#000" text-anchor="start" stroke="#000" stroke-width="1.0" stroke-linejoin="round">Pure SnS</text>
<text transform="translate(1500.5 835) scale(1 1.050)" font-size="26.4" fill="#000" text-anchor="start" stroke="#000" stroke-width="1.0" stroke-linejoin="round">Sr 4.9at.%</text>
<text transform="translate(1696.5 964) scale(1 1.050)" font-size="26.4" fill="#000" text-anchor="start" stroke="#000" stroke-width="1.0" stroke-linejoin="round">Pure SnS</text>
<text transform="translate(1836.5 967.5) scale(1 1.050)" font-size="26.4" fill="#000" text-anchor="start" stroke="#000" stroke-width="1.0" stroke-linejoin="round">Sr 4.9at.%</text>
<text x="1573" y="1099.3" font-size="33.2" fill="#000" text-anchor="middle" stroke="#000" stroke-width="1.0" stroke-linejoin="round">Energy (eV)</text>
<text transform="translate(1039.8 793) rotate(-90)" font-size="33.8" fill="#000" stroke="#000" stroke-width="1.1" stroke-linejoin="round" text-anchor="middle">α (cm<tspan font-size="21.5" dy="-11">-1</tspan><tspan dy="11">)</tspan></text>
</g>
<g id="panel-cl">
<clipPath id="clip-cl"><rect x="99.7" y="1173.2" width="846.9" height="435"/></clipPath>
<rect x="100.7" y="1173.6" width="845.9" height="434.2" fill="#fff"/>
<line x1="206.4" y1="1173.6" x2="206.4" y2="1607.8" stroke="#d4d4d4" stroke-width="2.2"/>
<line x1="312.2" y1="1173.6" x2="312.2" y2="1607.8" stroke="#d4d4d4" stroke-width="2.2"/>
<line x1="417.9" y1="1173.6" x2="417.9" y2="1607.8" stroke="#d4d4d4" stroke-width="2.2"/>
<line x1="523.6" y1="1173.6" x2="523.6" y2="1607.8" stroke="#d4d4d4" stroke-width="2.2"/>
<line x1="629.4" y1="1173.6" x2="629.4" y2="1607.8" stroke="#d4d4d4" stroke-width="2.2"/>
<line x1="735.1" y1="1173.6" x2="735.1" y2="1607.8" stroke="#d4d4d4" stroke-width="2.2"/>
<line x1="840.9" y1="1173.6" x2="840.9" y2="1607.8" stroke="#d4d4d4" stroke-width="2.2"/>
<line x1="100.7" y1="1260" x2="946.6" y2="1260" stroke="#d4d4d4" stroke-width="2.2"/>
<line x1="100.7" y1="1347" x2="946.6" y2="1347" stroke="#d4d4d4" stroke-width="2.2"/>
<line x1="100.7" y1="1433.5" x2="946.6" y2="1433.5" stroke="#d4d4d4" stroke-width="2.2"/>
<line x1="100.7" y1="1519.6" x2="946.6" y2="1519.6" stroke="#d4d4d4" stroke-width="2.2"/>
<rect x="100.7" y="1173.6" width="845.9" height="434.2" fill="none" stroke="#000" stroke-width="4.2"/>
<line x1="102.6" y1="1607.2" x2="944.7" y2="1607.2" stroke="#808080" stroke-width="1.5"/>
<g clip-path="url(#clip-cl)" fill="none" stroke-linejoin="round" stroke-linecap="round">
<path d="M99.7 1607.2 C153.7 1607 208.8 1617.5 261.7 1606.7 C265.9 1605.8 270 1604.8 274.2 1603.9 C278.3 1603.1 282.5 1602.1 286.6 1601.5 C290.8 1600.8 294.9 1600.4 299.1 1600 C304.1 1599.5 309.1 1598.9 314.1 1599 C319.1 1599 324 1600.4 329 1600.5 C334 1600.5 339 1599.9 344 1599.5 C349 1599 354 1598.9 358.9 1598 C362.3 1597.3 365.7 1596.7 368.9 1595.5 C371.5 1594.5 374 1593.4 376.4 1592 C379.1 1590.3 381.5 1588 383.8 1585.8 C386.6 1583.1 389.1 1580.1 391.3 1577 C394.4 1572.8 396.6 1568 398.8 1563.3 C401.7 1557.3 404 1550.9 406.3 1544.6 C409 1537.2 411.5 1529.7 413.8 1522.2 C416.5 1513.1 418.7 1503.9 421.2 1494.8 C423.7 1485.6 426.2 1476.5 428.7 1467.4 C430.8 1459.6 432.9 1451.8 435 1444 C438.2 1432.3 441.5 1420.6 445 1409 C448.2 1398.1 451.7 1387.3 455 1376.5 C458.3 1365.7 461.8 1354.9 465 1344 C468.5 1332.4 471.7 1320.7 475 1309 C478.3 1297.3 481.7 1285.7 485 1274 C488.3 1262.3 491.7 1250.7 495 1239 C498.3 1227.3 501.8 1215.7 505 1204 C508.2 1192.4 511 1180.7 514 1169" stroke="#000000" stroke-width="3.0"/>
<path d="M99.7 1607.2 C196.1 1607.1 294.2 1625.2 388.8 1606.9 C392.2 1606.3 395.5 1605.5 398.8 1604.9 C402.9 1604.2 407.2 1604 411.3 1603.2 C415.5 1602.4 419.6 1601.2 423.7 1600 C427.9 1598.7 432.1 1597.2 436.2 1595.7 C440.4 1594.2 444.6 1592.6 448.7 1590.7 C452.9 1588.8 457.2 1587 461.1 1584.5 C464.6 1582.3 468 1579.8 471.1 1577 C476.7 1571.9 480.6 1565.2 485 1559 C490.3 1551.7 495 1544 500 1536.5 C505 1529 510 1521.5 515 1514 C518.3 1509 521.4 1503.8 525 1499 C529.6 1492.8 535.7 1487.8 540 1481.5 C546.7 1471.7 550.1 1459.9 555 1449 C560.2 1437.4 565.5 1425.9 570 1414 C575.9 1398.5 580.4 1382.5 585 1366.5 C590.7 1346.7 595.2 1326.6 600 1306.5 C605.3 1284.1 610.2 1261.6 615 1239 C619.9 1215.7 624.3 1192.3 629 1169" stroke="#1f3864" stroke-width="3.0"/>
<path d="M100 1607.5 C233.3 1607.2 367.1 1617.2 500 1606.5 C516.7 1605.2 533.4 1603.9 550 1602 C566.7 1600.1 583.5 1598.3 600 1595 C610.1 1593 620.2 1591 630 1588 C640.2 1584.9 650.4 1581.2 660 1576.5 C670.6 1571.3 680.9 1565.4 690 1558 C699.4 1550.4 707.2 1540.8 715 1531.5 C722.1 1523 728.9 1514.2 735 1505 C742.5 1493.8 748.7 1481.9 755 1470 C762.1 1456.6 768.6 1442.8 775 1429 C781.9 1414.1 788.8 1399.2 795 1384 C802.4 1365.9 808.8 1347.5 815 1329 C822.2 1307.5 828.9 1285.8 835 1264 C840.5 1244.1 846 1224.2 850 1204 C852.3 1192.4 854 1180.7 856 1169" stroke="#2f5597" stroke-width="3.0"/>
<path d="M100 1607.5 C266.7 1607 434.7 1627.1 600 1606 C616.7 1603.9 633.5 1602.5 650 1599 C663.5 1596.1 677.1 1592.9 690 1588 C700.3 1584.1 710.4 1579.4 720 1574 C730.5 1568.1 740.8 1561.7 750 1554 C757.2 1547.9 763.9 1541.2 770 1534 C777.7 1524.8 784 1514.4 790 1504 C797.8 1490.4 803.9 1475.9 810 1461.5 C817.6 1443.5 823.8 1425 830 1406.5 C837.2 1385 843.6 1363.3 850 1341.5 C857 1317.4 863.7 1293.3 870 1269 C875.2 1249.1 880.4 1229.1 885 1209 C888 1195.7 890.7 1182.3 893.5 1169" stroke="#8faadc" stroke-width="3.0"/>
</g>
<line x1="388.5" y1="1607" x2="402.5" y2="1557" stroke="#000" stroke-width="1.9" stroke-dasharray="4.6 3.2"/>
<line x1="519.5" y1="1607" x2="600" y2="1302" stroke="#000" stroke-width="1.9" stroke-dasharray="4.6 3.2"/>
<line x1="723" y1="1606" x2="832.5" y2="1272" stroke="#000" stroke-width="1.9" stroke-dasharray="4.6 3.2"/>
<line x1="757" y1="1607" x2="842.5" y2="1357" stroke="#000" stroke-width="1.9" stroke-dasharray="4.6 3.2"/>
<line x1="370" y1="1388" x2="430.8" y2="1423.2" stroke="#000" stroke-width="3.0" stroke-dasharray="6.6 2.9"/>
<polygon points="439,1428 426.5,1426.6 431.6,1417.9" fill="#000"/>
<line x1="670" y1="1274.5" x2="607.5" y2="1305.3" stroke="#000" stroke-width="3.0" stroke-dasharray="6.6 2.9"/>
<polygon points="599,1309.5 607.1,1299.9 611.5,1308.9" fill="#000"/>
<line x1="709" y1="1417" x2="744.9" y2="1453.7" stroke="#000" stroke-width="3.0" stroke-dasharray="6.6 2.9"/>
<polygon points="751.5,1460.5 739.9,1455.8 747,1448.8" fill="#000"/>
<line x1="842.5" y1="1513" x2="816.9" y2="1464.4" stroke="#000" stroke-width="3.0" stroke-dasharray="6.6 2.9"/>
<polygon points="812.5,1456 822.3,1463.8 813.4,1468.5" fill="#000"/>
<text x="101.5" y="1643" font-size="23.3" fill="#595959" text-anchor="middle" stroke="#595959" stroke-width="0.9" stroke-linejoin="round">1</text>
<text x="207.2" y="1643" font-size="23.3" fill="#595959" text-anchor="middle" stroke="#595959" stroke-width="0.9" stroke-linejoin="round">1.2</text>
<text x="313" y="1643" font-size="23.3" fill="#595959" text-anchor="middle" stroke="#595959" stroke-width="0.9" stroke-linejoin="round">1.4</text>
<text x="418.7" y="1643" font-size="23.3" fill="#595959" text-anchor="middle" stroke="#595959" stroke-width="0.9" stroke-linejoin="round">1.6</text>
<text x="524.4" y="1643" font-size="23.3" fill="#595959" text-anchor="middle" stroke="#595959" stroke-width="0.9" stroke-linejoin="round">1.8</text>
<text x="630.2" y="1643" font-size="23.3" fill="#595959" text-anchor="middle" stroke="#595959" stroke-width="0.9" stroke-linejoin="round">2</text>
<text x="735.9" y="1643" font-size="23.3" fill="#595959" text-anchor="middle" stroke="#595959" stroke-width="0.9" stroke-linejoin="round">2.2</text>
<text x="841.7" y="1643" font-size="23.3" fill="#595959" text-anchor="middle" stroke="#595959" stroke-width="0.9" stroke-linejoin="round">2.4</text>
<text x="947.4" y="1643" font-size="23.3" fill="#595959" text-anchor="middle" stroke="#595959" stroke-width="0.9" stroke-linejoin="round">2.6</text>
<text transform="translate(270 1372) scale(1 1.050)" font-size="26.4" fill="#000" text-anchor="start" stroke="#000" stroke-width="1.0" stroke-linejoin="round">Pure SnS</text>
<text transform="translate(270 1404.5) scale(1 1.050)" font-size="26.4" fill="#000" text-anchor="start" stroke="#000" stroke-width="1.0" stroke-linejoin="round">1.55eV</text>
<text transform="translate(662.5 1233) scale(1 1.050)" font-size="26.4" fill="#000" text-anchor="start" stroke="#000" stroke-width="1.0" stroke-linejoin="round">Ba 5.4at.%</text>
<text transform="translate(662.5 1263.4) scale(1 1.050)" font-size="26.4" fill="#000" text-anchor="start" stroke="#000" stroke-width="1.0" stroke-linejoin="round">1.80eV</text>
<text transform="translate(615 1387) scale(1 1.050)" font-size="26.4" fill="#000" text-anchor="start" stroke="#000" stroke-width="1.0" stroke-linejoin="round">Ba 13.4at.%</text>
<text transform="translate(615 1419.5) scale(1 1.050)" font-size="26.4" fill="#000" text-anchor="start" stroke="#000" stroke-width="1.0" stroke-linejoin="round">2.15eV</text>
<text transform="translate(791 1549.5) scale(1 1.050)" font-size="26.4" fill="#000" text-anchor="start" stroke="#000" stroke-width="1.0" stroke-linejoin="round">Ba 14.6at.%</text>
<text transform="translate(791 1580.5) scale(1 1.050)" font-size="26.4" fill="#000" text-anchor="start" stroke="#000" stroke-width="1.0" stroke-linejoin="round">2.25eV</text>
<text x="539.5" y="1684.2" font-size="33.2" fill="#000" text-anchor="middle" stroke="#000" stroke-width="1.0" stroke-linejoin="round">Bandgap (eV)</text>
<text transform="translate(48.5 1384.5) rotate(-90)" font-size="33.8" fill="#000" stroke="#000" stroke-width="1.1" stroke-linejoin="round" text-anchor="middle">(αhv)<tspan font-size="21.5" dy="-11">2</tspan><tspan dy="11"> (arb.unit)</tspan></text>
</g>
<g id="panel-cr">
<clipPath id="clip-cr"><rect x="1159.3" y="1170.6" width="825.8" height="424.7"/></clipPath>
<rect x="1159.3" y="1170.6" width="826.3" height="427" fill="#fff"/>
<line x1="1262.6" y1="1170.6" x2="1262.6" y2="1597.6" stroke="#d4d4d4" stroke-width="2.2"/>
<line x1="1365.9" y1="1170.6" x2="1365.9" y2="1597.6" stroke="#d4d4d4" stroke-width="2.2"/>
<line x1="1469.2" y1="1170.6" x2="1469.2" y2="1597.6" stroke="#d4d4d4" stroke-width="2.2"/>
<line x1="1572.4" y1="1170.6" x2="1572.4" y2="1597.6" stroke="#d4d4d4" stroke-width="2.2"/>
<line x1="1675.7" y1="1170.6" x2="1675.7" y2="1597.6" stroke="#d4d4d4" stroke-width="2.2"/>
<line x1="1779" y1="1170.6" x2="1779" y2="1597.6" stroke="#d4d4d4" stroke-width="2.2"/>
<line x1="1882.3" y1="1170.6" x2="1882.3" y2="1597.6" stroke="#d4d4d4" stroke-width="2.2"/>
<line x1="1159.3" y1="1313" x2="1985.6" y2="1313" stroke="#d4d4d4" stroke-width="2.2"/>
<line x1="1159.3" y1="1454.6" x2="1985.6" y2="1454.6" stroke="#d4d4d4" stroke-width="2.2"/>
<g id="ph-c1">
<defs><linearGradient id="ph-c1-g" x1="0" y1="0" x2="1" y2="0"><stop offset="0" stop-color="#050001"/><stop offset="0.45" stop-color="#080103"/><stop offset="0.55" stop-color="#160a10"/><stop offset="1" stop-color="#1a0a11"/></linearGradient></defs>
<rect x="1177.3" y="1174.4" width="94.9" height="94.3" fill="#070103"/>
<rect x="1225.7" y="1195.1" width="46.5" height="73.6" fill="#10060b"/>
<rect x="1258.9" y="1174.4" width="13.3" height="94.3" fill="#0a0306"/>
<polygon points="1235.7,1174.4 1261.8,1174.4 1257.5,1185.2" fill="#f1e3ea"/>
<polygon points="1202.9,1268.7 1207.7,1263 1216.2,1268.7" fill="#efe3e6"/>
<circle cx="1253.2" cy="1212.6" r="2.7" fill="#3b3138"/>
<ellipse cx="1253.7" cy="1228.2" rx="6.6" ry="8" fill="#0c0508" stroke="#241a20" stroke-width="1"/>
<ellipse cx="1254.6" cy="1228.2" rx="2.3" ry="4.7" fill="#403642"/>
<rect x="1252.3" y="1244.2" width="1.9" height="11.3" fill="#060103"/>
<rect x="1258" y="1244.2" width="1.9" height="11.3" fill="#060103"/>
</g>
<g id="ph-c2">
<defs><linearGradient id="ph-c2-g" x1="0" y1="0" x2="0" y2="1"><stop offset="0" stop-color="#860f1b"/><stop offset="0.58" stop-color="#74101b"/><stop offset="0.62" stop-color="#7c2220"/><stop offset="1" stop-color="#7d2a1f"/></linearGradient></defs>
<rect x="1302.5" y="1173.6" width="94.8" height="95.1" fill="url(#ph-c2-g)"/>
<rect x="1364.1" y="1173.6" width="33.2" height="57.1" fill="#7b1220"/>
<line x1="1364.1" y1="1173.6" x2="1364.1" y2="1230.7" stroke="#94323c" stroke-width="0.7"/>
<line x1="1364.1" y1="1230.7" x2="1397.3" y2="1230.7" stroke="#9c4a46" stroke-width="0.9"/>
<line x1="1302.5" y1="1230.7" x2="1364.1" y2="1230.7" stroke="#8c2a2a" stroke-width="0.8"/>
<rect x="1394.9" y="1202.1" width="2.4" height="66.6" fill="#c9a99a" opacity="0.75"/>
<polygon points="1316.7,1268.7 1319.6,1261.6 1333.8,1268.7" fill="#f4ebe6"/>
</g>
<g id="ph-c3">
<defs><linearGradient id="ph-c3-g" x1="0" y1="0" x2="1" y2="0.3"><stop offset="0" stop-color="#e0580c"/><stop offset="0.55" stop-color="#d4500b"/><stop offset="1" stop-color="#b8470c"/></linearGradient></defs>
<rect x="1429.8" y="1174.4" width="94.7" height="94.3" fill="url(#ph-c3-g)"/>
<polygon points="1429.8,1174.4 1524.5,1174.4 1524.5,1208.3 1435.5,1205.5 1429.8,1205.5" fill="#cd5a12"/>
<polygon points="1462.9,1174.4 1524.5,1174.4 1524.5,1208.3 1486.6,1207.4" fill="#c4570f"/>
<polygon points="1429.8,1206.5 1434.5,1208.3 1431.7,1221.6 1429.8,1221.6" fill="#f5e9e0"/>
<polygon points="1524.5,1225.3 1520.7,1228.2 1516.9,1236.6 1524.5,1239.5" fill="#f3e6dc"/>
<polygon points="1517.9,1239.5 1524.5,1239.5 1524.5,1268.7 1515,1268.7" fill="#a9410b"/>
</g>
<path d="M1156.8 1170.6 L1985.6 1170.6 L1985.6 1597.6 L1985.6 1600.1" fill="none" stroke="#000" stroke-width="4.1" stroke-linejoin="miter"/>
<path d="M1159.3 1170.6 L1159.3 1597.6 L1985.6 1597.6" fill="none" stroke="#000" stroke-width="4.3" stroke-linejoin="round"/>
<path d="M1158.7 1172.6 L1158.7 1598.2 L1983.6 1598.2" fill="none" stroke="#c9c9c9" stroke-width="1.1" stroke-linejoin="round"/>
<g clip-path="url(#clip-cr)" fill="none" stroke-linejoin="round" stroke-linecap="round">
<path d="M1300.4 1615 C1300.5 1610 1300.5 1605 1300.7 1600 C1301 1592.2 1301.5 1584.4 1302.1 1576.6 C1302.9 1566.1 1304.1 1555.6 1305.3 1545.2 C1306.8 1532.4 1308.3 1519.5 1310.5 1506.8 C1312.3 1496.3 1314.3 1485.8 1316.8 1475.4 C1319 1466 1321.1 1456.5 1324.5 1447.5 C1326.9 1440.9 1329.4 1434.2 1333.2 1428.3 C1335.5 1424.6 1337.8 1420.6 1341.2 1417.8 C1344 1415.5 1347.3 1413.9 1350.6 1412.6 C1354.5 1411.1 1358.7 1410.4 1362.8 1409.8 C1365.7 1409.4 1368.7 1408.7 1371.6 1409.1 C1375.3 1409.6 1378.3 1412.8 1382 1413.3 C1386.1 1413.8 1390.2 1411.9 1394.2 1411.2 C1398.9 1410.3 1403.8 1410.1 1408.2 1408.4 C1411.9 1407 1415.4 1405.1 1418.7 1402.8 C1422.5 1400.2 1425.9 1396.8 1429.1 1393.4 C1433.1 1389.1 1436.2 1384.2 1439.6 1379.4 C1443.2 1374.3 1446.6 1369 1450.1 1363.7 C1453.6 1358.5 1456.7 1353 1460.5 1348 C1463.8 1343.8 1467.2 1339.6 1471 1335.8 C1474.3 1332.7 1477.8 1329.8 1481.5 1327.1 C1485.9 1323.9 1490.6 1320.9 1495.4 1318.4 C1501 1315.5 1507 1313.7 1512.9 1311.4 C1526.2 1306.2 1539.4 1300.9 1553 1296.5 C1561.3 1293.8 1569.6 1291.3 1578 1289 C1586.3 1286.8 1594.7 1285.1 1603 1283 C1611.4 1280.9 1619.6 1278.6 1628 1276.5 C1636.3 1274.4 1644.6 1272.3 1653 1270.5 C1659.6 1269.1 1666.3 1267.9 1673 1266.5 C1683 1264.4 1693 1262.1 1703 1260 C1711.3 1258.3 1719.7 1256.7 1728 1255 C1736.3 1253.3 1744.6 1251.4 1753 1250 C1761.3 1248.6 1769.6 1247.5 1778 1246.5 C1786.3 1245.5 1794.7 1244.8 1803 1244 C1811.3 1243.2 1819.7 1242.2 1828 1241.5 C1836.3 1240.8 1844.7 1240.7 1853 1240 C1856.3 1239.7 1859.7 1239 1863 1239 C1867.2 1239.1 1871.3 1240.6 1875.5 1241 C1884.6 1241.8 1893.8 1239.9 1903 1239.5 C1919.7 1238.8 1936.3 1238.4 1953 1238.5 C1964.7 1238.6 1976.3 1239.2 1988 1239.5" stroke="#000000" stroke-width="3.0"/>
<path d="M1415.5 1615 C1415.6 1610 1415.7 1605 1415.9 1600 C1416.3 1591 1417.1 1582 1418 1573.1 C1418.9 1563.8 1420 1554.4 1421.5 1545.2 C1423.1 1534.7 1424.9 1524.1 1427.4 1513.8 C1429.4 1505.5 1431.8 1497.4 1434.4 1489.4 C1437 1481.1 1439.7 1472.9 1443.1 1464.9 C1446.2 1457.8 1449.5 1450.7 1453.6 1444 C1457.2 1437.9 1461.2 1432 1465.8 1426.5 C1470.5 1420.9 1476 1415.8 1481.5 1410.8 C1487 1405.9 1493.1 1401.5 1498.9 1396.9 C1504.7 1392.2 1510.9 1388 1516.4 1382.9 C1520 1379.6 1523.7 1376.2 1526.8 1372.5 C1528.7 1370.2 1530.1 1367.6 1532.1 1365.5 C1537.5 1359.7 1546 1357.7 1553 1354 C1561.2 1349.7 1569.5 1345.3 1578 1341.5 C1586.2 1337.8 1594.7 1334.8 1603 1331.5 C1611.3 1328.2 1619.6 1324.6 1628 1321.5 C1636.3 1318.4 1644.8 1316.1 1653 1313 C1659.7 1310.5 1666.2 1307.4 1673 1305 C1682.8 1301.6 1693 1299.4 1703 1296.5 C1711.4 1294.1 1719.7 1291.5 1728 1289 C1736.3 1286.5 1744.7 1284 1753 1281.5 C1761.3 1279 1769.7 1276.5 1778 1274 C1786.3 1271.5 1794.6 1268.8 1803 1266.5 C1811.3 1264.2 1819.7 1262.2 1828 1260 C1836.4 1257.7 1844.6 1255.2 1853 1253 C1861.3 1250.8 1869.7 1249.2 1878 1247 C1886.4 1244.8 1894.6 1242 1903 1240 C1911.3 1238 1919.7 1236.7 1928 1235 C1936.3 1233.3 1944.6 1231.5 1953 1230 C1964.6 1227.9 1976.3 1226.3 1988 1224.5" stroke="#1f3864" stroke-width="3.0"/>
<path d="M1501.7 1615 C1501.9 1611 1502 1603.9 1502.4 1600 C1502.9 1595.5 1504.4 1587.9 1505.2 1583.6 C1505.7 1580.8 1505 1574.8 1507.3 1573.1 C1508.7 1572.1 1512.2 1572.7 1513.6 1571.7 C1516.4 1569.8 1514.8 1562.5 1515.3 1559.1 C1516.1 1553.5 1516.6 1543.5 1518.5 1538.2 C1519.4 1535.7 1520.6 1530.9 1522.6 1529.1 C1524.6 1527.4 1530.2 1528.2 1532.1 1526.3 C1534.2 1524.3 1533.9 1518.4 1534.9 1515.5 C1536.4 1510.7 1539.6 1502.2 1542.5 1498.1 C1544.8 1494.9 1550.3 1490.5 1553 1487.6 C1555.9 1484.5 1560.6 1478.5 1563.5 1475.4 C1566.6 1472 1572.3 1466.3 1575.7 1463.2 C1578.8 1460.3 1584.5 1455.3 1587.9 1452.7 C1594.2 1447.8 1606 1440.2 1613 1436.5 C1618.2 1433.8 1627.8 1430.1 1633 1427.5 C1638.4 1424.8 1647.6 1419.3 1653 1416.5 C1658.3 1413.7 1667.7 1409.2 1673 1406.5 C1681 1402.5 1694.9 1395.4 1703 1391.5 C1709.6 1388.3 1721.3 1383 1728 1380 C1734.6 1377 1746.3 1371.9 1753 1369 C1759.7 1366.1 1771.3 1360.9 1778 1358 C1784.6 1355.1 1796.3 1350.2 1803 1347.5 C1809.6 1344.8 1821.3 1340 1828 1337.5 C1834.6 1335.1 1846.3 1331.3 1853 1329 C1859.7 1326.7 1871.3 1322.6 1878 1320.5 C1884.6 1318.4 1896.3 1314.9 1903 1313 C1909.6 1311.1 1921.3 1308 1928 1306.5 C1934.6 1305 1946.3 1302.7 1953 1301.5 C1962.3 1299.8 1978.7 1297.5 1988 1296" stroke="#4472c4" stroke-width="3.0"/>
<path d="M1591.7 1615 C1592 1610 1592 1604.9 1592.4 1600 C1593.1 1592.1 1594.6 1584.3 1595.9 1576.6 C1597.1 1569.6 1598.5 1562.6 1600.1 1555.6 C1601.6 1549.2 1602.7 1542.5 1605.3 1536.5 C1607.2 1532.2 1609.6 1528.1 1612.3 1524.2 C1614.4 1521.2 1617.2 1518.6 1619.3 1515.5 C1622.7 1510.6 1624.8 1504.8 1628 1499.8 C1631.2 1494.9 1634.8 1490.4 1638.5 1485.9 C1642.9 1480.4 1647.6 1475.2 1652.4 1470.2 C1655.3 1467.2 1658.3 1464.4 1661.2 1461.4 C1665.2 1457.3 1668.9 1453 1673 1449 C1682.3 1439.9 1692.6 1431.9 1703 1424 C1711.1 1417.9 1719.6 1412.2 1728 1406.5 C1736.3 1400.9 1744.7 1395.5 1753 1390 C1758 1386.7 1762.8 1383.1 1768 1380 C1779 1373.4 1791.3 1369.2 1803 1364 C1811.3 1360.3 1819.6 1356.5 1828 1353 C1836.3 1349.5 1844.7 1346.3 1853 1343 C1861.3 1339.7 1869.6 1336.2 1878 1333 C1886.3 1329.9 1894.6 1326.8 1903 1324 C1911.3 1321.3 1919.6 1318.8 1928 1316.5 C1936.3 1314.2 1944.6 1312 1953 1310 C1964.6 1307.2 1976.3 1305 1988 1302.5" stroke="#8faadc" stroke-width="3.0"/>
</g>
<line x1="1378" y1="1378" x2="1405.4" y2="1398.8" stroke="#000" stroke-width="3.0" stroke-dasharray="6.6 2.9"/>
<polygon points="1413,1404.5 1400.8,1401.5 1406.8,1393.6" fill="#000"/>
<line x1="1293" y1="1449.5" x2="1420.3" y2="1505.7" stroke="#000" stroke-width="3.0" stroke-dasharray="6.6 2.9"/>
<polygon points="1429,1509.5 1416.5,1509.4 1420.5,1500.3" fill="#000"/>
<line x1="1625.5" y1="1383" x2="1625.5" y2="1411.5" stroke="#000" stroke-width="3.0" stroke-dasharray="6.6 2.9"/>
<polygon points="1625.5,1421 1620.5,1409.5 1630.5,1409.5" fill="#000"/>
<line x1="1693" y1="1496" x2="1665.9" y2="1470.1" stroke="#000" stroke-width="3.0" stroke-dasharray="6.6 2.9"/>
<polygon points="1659,1463.5 1670.8,1467.8 1663.9,1475.1" fill="#000"/>
<text x="1159.3" y="1633.6" font-size="23.3" fill="#595959" text-anchor="middle" stroke="#595959" stroke-width="0.9" stroke-linejoin="round">1</text>
<text x="1262.6" y="1633.6" font-size="23.3" fill="#595959" text-anchor="middle" stroke="#595959" stroke-width="0.9" stroke-linejoin="round">1.2</text>
<text x="1365.9" y="1633.6" font-size="23.3" fill="#595959" text-anchor="middle" stroke="#595959" stroke-width="0.9" stroke-linejoin="round">1.4</text>
<text x="1469.2" y="1633.6" font-size="23.3" fill="#595959" text-anchor="middle" stroke="#595959" stroke-width="0.9" stroke-linejoin="round">1.6</text>
<text x="1572.4" y="1633.6" font-size="23.3" fill="#595959" text-anchor="middle" stroke="#595959" stroke-width="0.9" stroke-linejoin="round">1.8</text>
<text x="1675.7" y="1633.6" font-size="23.3" fill="#595959" text-anchor="middle" stroke="#595959" stroke-width="0.9" stroke-linejoin="round">2</text>
<text x="1779" y="1633.6" font-size="23.3" fill="#595959" text-anchor="middle" stroke="#595959" stroke-width="0.9" stroke-linejoin="round">2.2</text>
<text x="1882.3" y="1633.6" font-size="23.3" fill="#595959" text-anchor="middle" stroke="#595959" stroke-width="0.9" stroke-linejoin="round">2.4</text>
<text x="1985.6" y="1633.6" font-size="23.3" fill="#595959" text-anchor="middle" stroke="#595959" stroke-width="0.9" stroke-linejoin="round">2.6</text>
<text x="1139" y="1177.4" font-size="23.3" fill="#595959" text-anchor="end" stroke="#595959" stroke-width="0.9" stroke-linejoin="round">1.E+06</text>
<text x="1139" y="1319.2" font-size="23.3" fill="#595959" text-anchor="end" stroke="#595959" stroke-width="0.9" stroke-linejoin="round">1.E+05</text>
<text x="1139" y="1461.7" font-size="23.3" fill="#595959" text-anchor="end" stroke="#595959" stroke-width="0.9" stroke-linejoin="round">1.E+04</text>
<text x="1139" y="1604.7" font-size="23.3" fill="#595959" text-anchor="end" stroke="#595959" stroke-width="0.9" stroke-linejoin="round">1.E+03</text>
<text transform="translate(1290.5 1366) scale(1 1.050)" font-size="26.4" fill="#000" text-anchor="start" stroke="#000" stroke-width="1.0" stroke-linejoin="round">Pure SnS</text>
<text transform="translate(1172 1447) scale(1 1.050)" font-size="26.4" fill="#000" text-anchor="start" stroke="#000" stroke-width="1.0" stroke-linejoin="round">Ba 5.4at.%</text>
<text transform="translate(1574 1377) scale(1 1.050)" font-size="26.4" fill="#000" text-anchor="start" stroke="#000" stroke-width="1.0" stroke-linejoin="round">Ba 13.4at.%</text>
<text transform="translate(1664.5 1527) scale(1 1.050)" font-size="26.4" fill="#000" text-anchor="start" stroke="#000" stroke-width="1.0" stroke-linejoin="round">Ba 14.6at.%</text>
<text transform="translate(1164 1294.5) scale(1 1.050)" font-size="26.4" fill="#000" text-anchor="start" stroke="#000" stroke-width="1.0" stroke-linejoin="round">Pure SnS</text>
<text transform="translate(1286.5 1294.5) scale(1 1.050)" font-size="26.4" fill="#000" text-anchor="start" stroke="#000" stroke-width="1.0" stroke-linejoin="round">Ba5.4at.%</text>
<text transform="translate(1414 1294.5) scale(1 1.050)" font-size="26.4" fill="#000" text-anchor="start" stroke="#000" stroke-width="1.0" stroke-linejoin="round">Ba13.4at.%</text>
<text x="1583" y="1674.4" font-size="33.2" fill="#000" text-anchor="middle" stroke="#000" stroke-width="1.0" stroke-linejoin="round">Energy (eV)</text>
<text transform="translate(1039.8 1377) rotate(-90)" font-size="33.8" fill="#000" stroke="#000" stroke-width="1.1" stroke-linejoin="round" text-anchor="middle">α (cm<tspan font-size="21.5" dy="-11">-1</tspan><tspan dy="11">)</tspan></text>
</g>
<text transform="translate(19 43.2) scale(0.9 0.985)" font-size="68" fill="#000" stroke="#000" stroke-width="1.6" stroke-linejoin="round">a</text>
<text transform="translate(3.5 596.3) scale(0.9 0.985)" font-size="68" fill="#000" stroke="#000" stroke-width="1.6" stroke-linejoin="round">b</text>
<text transform="translate(24 1194.8) scale(0.975 0.92)" font-size="68" fill="#000" stroke="#000" stroke-width="1.6" stroke-linejoin="round">c</text>
</svg>
</body>
</html>
